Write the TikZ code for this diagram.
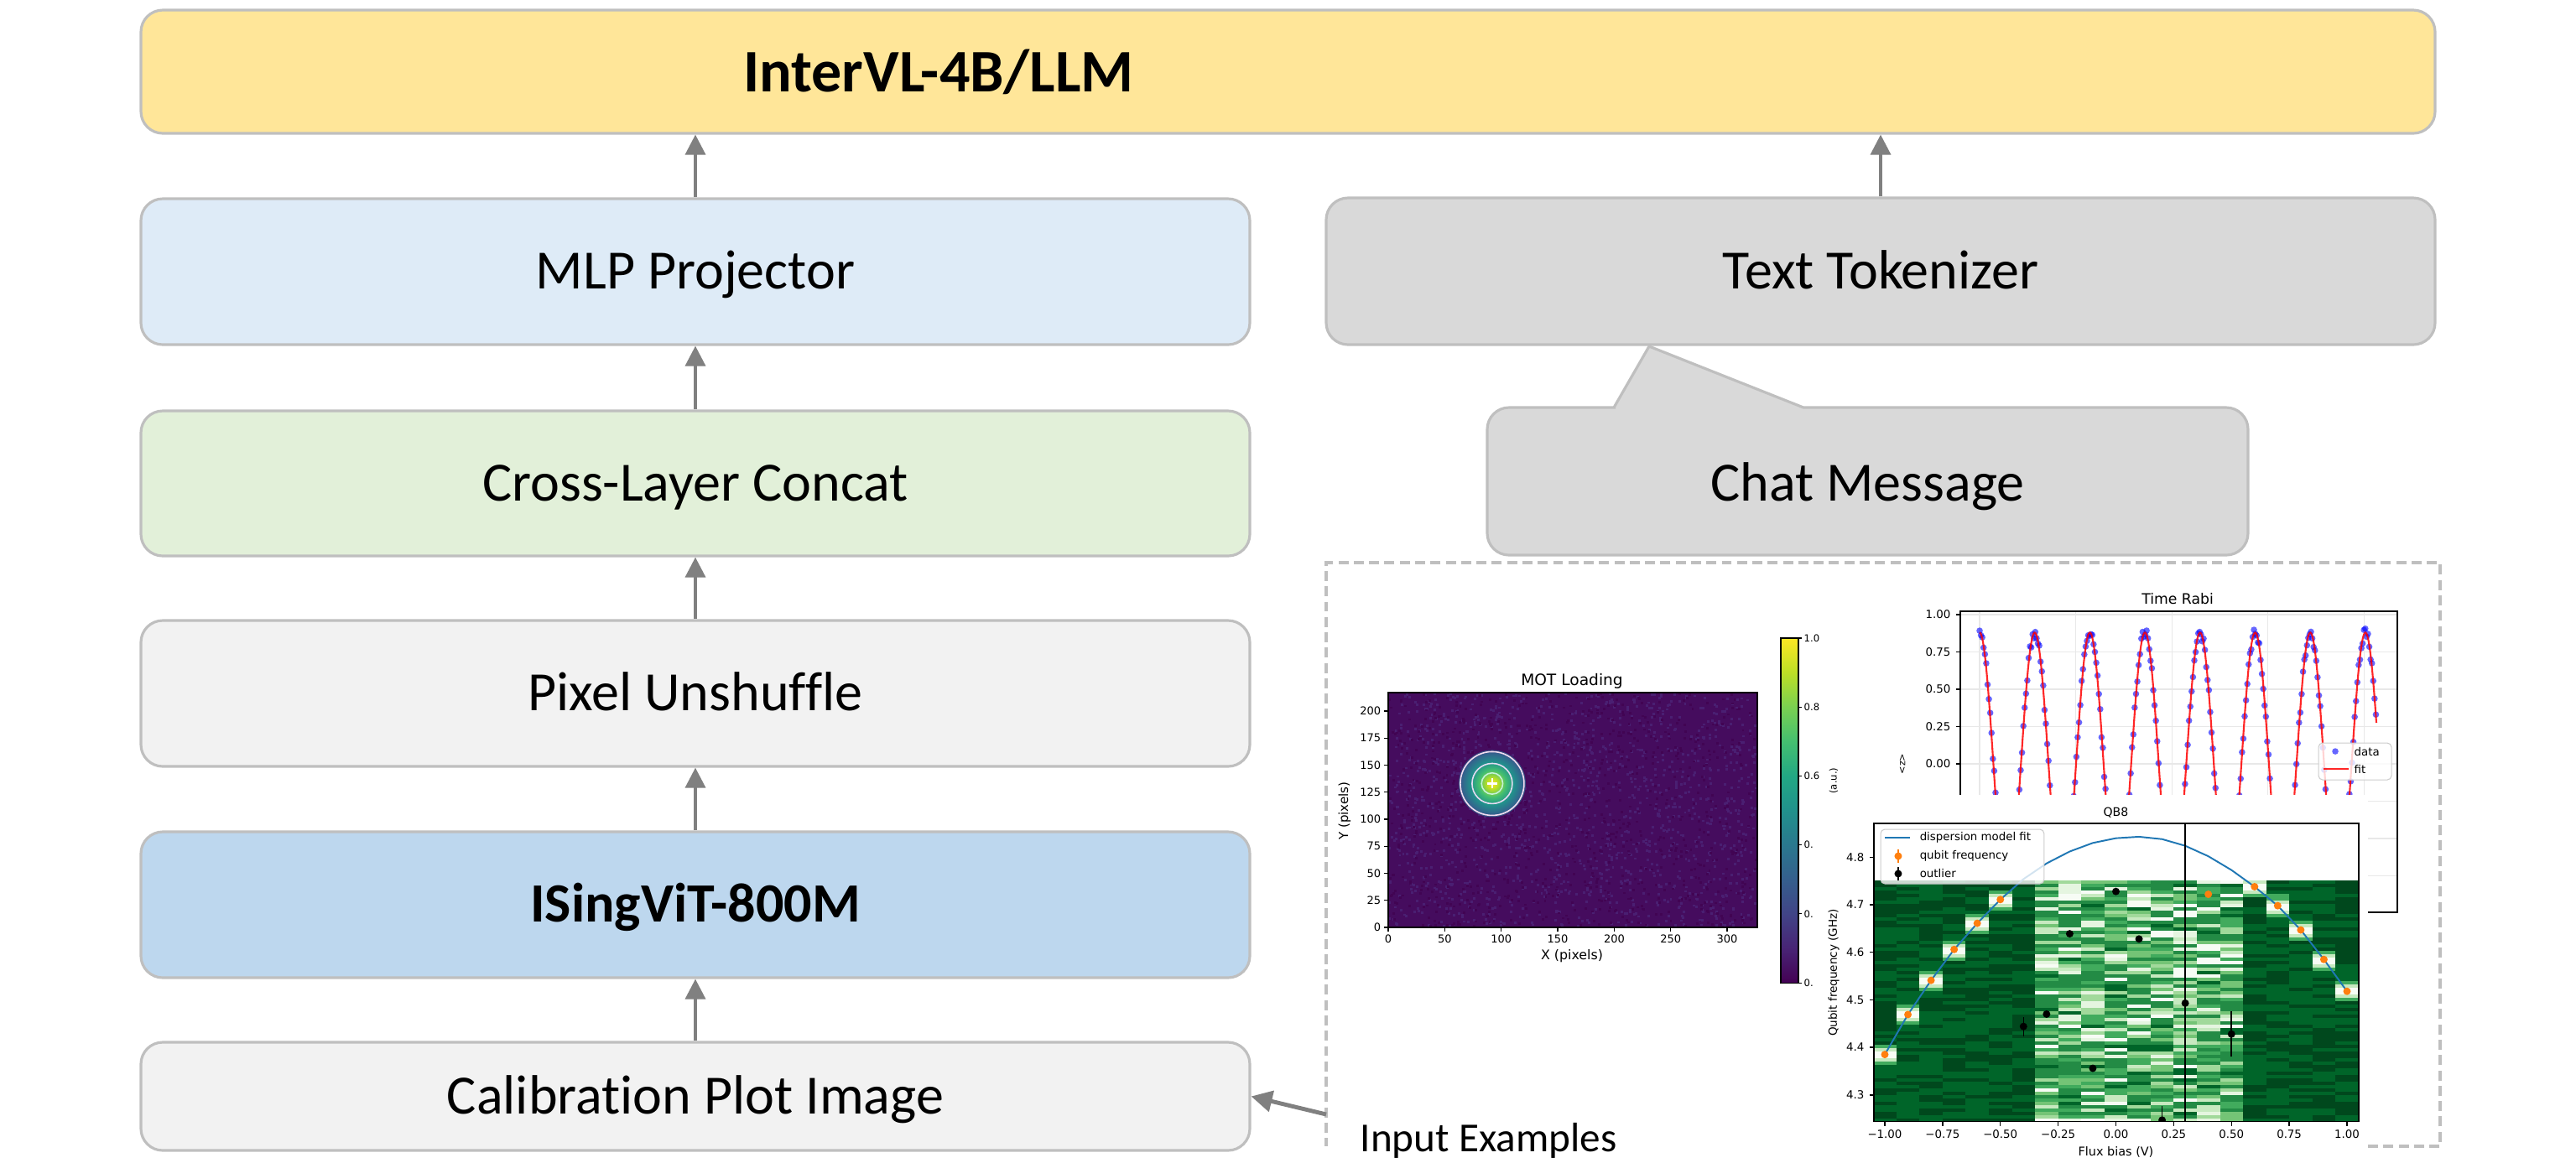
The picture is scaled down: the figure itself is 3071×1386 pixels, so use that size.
\documentclass[tikz,border=0pt]{standalone}
\usepackage{fontspec}
\setmainfont{Carlito}[Ligatures=NoCommon]
\newfontfamily\mpl{DejaVu Sans}
\usetikzlibrary{arrows.meta}

\definecolor{llmfill}{HTML}{FFE699}
\definecolor{mlpfill}{HTML}{DEEBF7}
\definecolor{catfill}{HTML}{E2F0D9}
\definecolor{lightfill}{HTML}{F2F2F2}
\definecolor{vitfill}{HTML}{BDD7EE}
\definecolor{tokfill}{HTML}{D9D9D9}
\definecolor{edgegray}{HTML}{BFBFBF}
\definecolor{arrgray}{HTML}{808080}
\definecolor{gridc}{HTML}{E8E8E8}
\definecolor{legedge}{HTML}{CCCCCC}
\definecolor{mplorange}{HTML}{FF7F0E}
\definecolor{mplblue}{HTML}{1F77B4}
\definecolor{motbase}{HTML}{450C5E}
\definecolor{motlight}{HTML}{4A1F72}
\definecolor{motdark}{HTML}{410453}
\definecolor{ringa}{HTML}{C4F2DA}
\definecolor{ringb}{HTML}{E4DAF2}
\definecolor{ringc}{HTML}{F2DCF0}
\definecolor{v0}{HTML}{440154}
\definecolor{v1}{HTML}{482475}
\definecolor{v2}{HTML}{414487}
\definecolor{v3}{HTML}{355F8D}
\definecolor{v4}{HTML}{2A788E}
\definecolor{v5}{HTML}{21918C}
\definecolor{v6}{HTML}{22A884}
\definecolor{v7}{HTML}{44BF70}
\definecolor{v8}{HTML}{7AD151}
\definecolor{v9}{HTML}{BDDF26}
\definecolor{v10}{HTML}{FDE725}
\definecolor{g0}{HTML}{F7FCF5}
\definecolor{g1}{HTML}{E5F5E0}
\definecolor{g2}{HTML}{C7E9C0}
\definecolor{g3}{HTML}{A1D99B}
\definecolor{g4}{HTML}{74C476}
\definecolor{g5}{HTML}{41AB5D}
\definecolor{g6}{HTML}{238B45}
\definecolor{g7}{HTML}{006529}
\definecolor{g8}{HTML}{00481D}

\pgfdeclareverticalshading{viridisv}{100bp}{color(0bp)=(v0); color(25bp)=(v0); color(30bp)=(v1); color(35bp)=(v2); color(40bp)=(v3); color(45bp)=(v4); color(50bp)=(v5); color(55bp)=(v6); color(60bp)=(v7); color(65bp)=(v8); color(70bp)=(v9); color(75bp)=(v10); color(100bp)=(v10)}
\pgfdeclareradialshading{motspot}{\pgfpoint{0bp}{0bp}}{color(0bp)=(v10); color(4bp)=(v9); color(10bp)=(v7); color(16bp)=(v5); color(23bp)=(v3); color(31bp)=(motbase); color(50bp)=(motbase)}

\begin{document}
\begin{tikzpicture}[x=0.1mm, y=-0.1mm,
  box/.style={draw=edgegray, line width=0.9pt, rounded corners=2.6mm, inner sep=0pt, font=\fontsize{18.8}{22}\selectfont, text height=13pt, text depth=1.12pt},
  boxtext/.style={inner sep=0pt, font=\fontsize{18.8}{22}\selectfont, text height=13pt, text depth=1.12pt},
  arr/.style={draw=arrgray, line width=1pt, -{Triangle[length=2.4mm,width=2.4mm]}},
  inarr/.style={draw=arrgray, line width=1.4pt, -{Triangle[length=2.5mm,width=2.5mm]}},
  frame/.style={draw=edgegray, line width=0.9pt, dash pattern=on 3.4pt off 1.8pt},
  mtick/.style={font=\mpl\fontsize{3.7}{4.4}\selectfont, inner sep=0pt},
  ctick/.style={font=\mpl\fontsize{3.3}{4}\selectfont, inner sep=0pt},
  qtick/.style={font=\mpl\fontsize{3.8}{4.5}\selectfont, inner sep=0pt},
  spine/.style={draw=black, line width=0.4pt}]

\useasboundingbox (0,0) rectangle (3071,1386);
\fill[white] (0,0) rectangle (3071,1386);

% ---------- main blocks ----------
\node[box, fill=llmfill, minimum width=273.5mm, minimum height=14.7mm] (llm) at (1535.5,85.5) {};
\node[inner sep=0pt, font=\bfseries\fontsize{20.5}{24}\selectfont, text height=14pt, text depth=1.04pt] (llmtxt) at (1119,87) {InterVL-4B/LLM};

\node[box, fill=mlpfill, minimum width=132.2mm, minimum height=17.4mm] (mlp) at (829,324) {MLP Projector};
\node[box, fill=catfill, minimum width=132.2mm, minimum height=17.3mm] (cat) at (829,576.5) {Cross-Layer Concat};
\node[box, fill=lightfill, minimum width=132.2mm, minimum height=17.4mm] (pix) at (829,827) {Pixel Unshuffle};
\node[box, fill=vitfill, minimum width=132.2mm, minimum height=17.4mm] (vit) at (829,1079) {\textbf{ISingViT-800M}};
\node[box, fill=lightfill, minimum width=132.2mm, minimum height=12.9mm] (cal) at (829,1307.5) {Calibration Plot Image};

\node[box, fill=tokfill, minimum width=132.2mm, minimum height=17.5mm] (tok) at (2242,323.5) {Text Tokenizer};

\draw[draw=edgegray, line width=0.9pt, fill=tokfill] (1924,486) -- (1966,413) -- (2150,486) -- (2170,486)
  [rounded corners=2.6mm] -- (2680,486) -- (2680,662) -- (1773,662) -- (1773,486) -- (1900,486) [sharp corners] -- cycle;
\node[boxtext] (chat) at (2226.5,577) {Chat Message};

\draw[arr] (cal.north) -- (vit.south);
\draw[arr] (vit.north) -- (pix.south);
\draw[arr] (pix.north) -- (cat.south);
\draw[arr] (cat.north) -- (mlp.south);
\draw[arr] (mlp.north) -- (mlp.north |- llm.south);
\draw[arr] (tok.north) -- (tok.north |- llm.south);

% ---------- input examples frame ----------
\draw[frame] (2823,1367) -- (2909,1367) -- (2909,671) -- (1581,671) -- (1581,1367);
\coordinate (inp) at (1581,1329);
\draw[inarr] (inp) -- (cal.east);
\node[font=\fontsize{14}{16}\selectfont, anchor=base west, inner sep=0pt] (inex) at (1621,1373) {Input Examples};

% ---------- MOT Loading ----------
\pgfmathsetseed{4242}
\begin{scope}[shift={(165.5mm,-110.6mm)}, x=0.1347mm, y=0.129mm]
  \fill[motbase] (0,0) rectangle (326.7,217);
  \foreach \i in {1,...,1500}{\fill[motlight] ({rnd*324.5},{rnd*215}) rectangle ++(2.2,2.2);}
  \foreach \i in {1,...,900}{\fill[motdark] ({rnd*324.5},{rnd*215}) rectangle ++(2.2,2.2);}
  \shade[shading=motspot] (92,133) circle[radius=4mm];
  \draw[ringc, line width=0.45pt] (92,133) circle[radius=3.8mm];
  \draw[ringb, line width=0.45pt] (92,133) circle[radius=2.4mm];
  \draw[ringa, line width=0.45pt] (92,133) circle[radius=1.27mm];
  \draw[white, line width=0.7pt] (92,133) ++(-0.6mm,0pt) -- ++(1.2mm,0pt);
  \draw[white, line width=0.7pt] (92,133) ++(0pt,-0.6mm) -- ++(0pt,1.2mm);
  \draw[spine] (0,0) rectangle (326.7,217);
  \foreach \v [count=\n] in {0,50,...,300}{
    \draw[spine] (\v,0) -- ++(0pt,-0.5mm);
    \node[mtick, anchor=north] (motx\n) at (\v,-6.5) {\v};}
  \foreach \v [count=\n] in {0,25,...,200}{
    \draw[spine] (0,\v) -- ++(-0.5mm,0pt);
    \node[mtick, anchor=east] (moty\n) at (-6,\v) {\v};}
\end{scope}
\node[font=\mpl\fontsize{5.3}{6}\selectfont, inner sep=0pt] (mott) at (1874,812) {MOT Loading};
\node[font=\mpl\fontsize{4.5}{5.4}\selectfont, inner sep=0pt] (motxl) at (1874,1140) {X (pixels)};
\node[font=\mpl\fontsize{4.3}{5.2}\selectfont, inner sep=0pt, rotate=90] (motyl) at (1603,967) {Y (pixels)};

% colorbar
\shade[shading=viridisv] (2123,761) rectangle (2144,1172);
\draw[spine, line width=0.3pt] (2123,761) rectangle (2144,1172);
\foreach \t/\l [count=\n] in {0/0.0,0.2/0.2,0.4/0.4,0.6/0.6,0.8/0.8,1/1.0}{
  \draw[spine, line width=0.3pt] (2144,{1172-411*\t}) -- ++(4,0);
  \node[ctick, anchor=west] (cb\n) at (2150,{1172-411*\t}) {\l};}
\node[ctick, rotate=90, anchor=east] (cblab) at (2186,915) {(a.u.)};

% ---------- Time Rabi ----------
\begin{scope}[shift={(0mm,-91.1mm)}, x=0.1mm, y=17.8mm]
  \foreach \z in {1,0.75,0.5,0.25,0,-0.25,-0.5,-0.75}{\draw[gridc, line width=0.35pt] (2337,\z) -- (2858,\z);}
  \foreach \gx in {2360,2474.6,2589.2,2703.8,2818.4}{\draw[gridc, line width=0.35pt] (\gx,-0.994) -- (\gx,1.022);}
  \begin{scope}
    \clip (2337,-0.994) rectangle (2858,1.022);
    \foreach \i in {0,...,299}{
      \pgfmathsetmacro\tq{\i*1.58}
      \pgfmathsetmacro\zz{0.88*cos(\tq*5.47945)+0.035*rand}
      \fill[blue, fill opacity=0.6] ({2360+\tq},\zz) circle[radius=0.38mm];}
    \draw[red, line width=0.6pt, opacity=0.85] plot[domain=0:473, samples=500] ({2360+\x},{0.88*cos(\x*5.47945)});
  \end{scope}
  \draw[spine] (2337,-0.994) rectangle (2858,1.022);
  \foreach \z/\l [count=\n] in {1/1.00,0.75/0.75,0.5/0.50,0.25/0.25,0/0.00}{
    \draw[spine] (2337,\z) -- ++(-0.5mm,0pt);
    \node[qtick, anchor=east] (raby\n) at (2326,\z) {\l};}
  \node[font=\mpl\fontsize{3.2}{4}\selectfont, inner sep=0pt, rotate=90] (rabyl) at (2268,0) {\textless z\textgreater};
  \node[font=\mpl\fontsize{4.9}{5.8}\selectfont, inner sep=0pt] (rabt) at (2596,1.107) {Time Rabi};
  \fill[white, fill opacity=0.8, draw=legedge, draw opacity=1, line width=0.3pt, rounded corners=0.5mm] (2764,0.140) rectangle (2851,-0.107);
  \fill[blue, fill opacity=0.6] (2784,0.084) circle[radius=0.38mm];
  \draw[red, line width=0.6pt, opacity=0.85] (2770,-0.034) -- (2800,-0.034);
  \node[qtick, anchor=west] (rabd) at (2806,0.084) {data};
  \node[qtick, anchor=west] (rabf) at (2806,-0.034) {fit};
\end{scope}

% ---------- QB8 ----------
\fill[white] (2162,948) rectangle (2823,1386);
\begin{scope}[shift={(252.25mm,-102.23mm)}, x=27.55mm, y=56.7mm]
  \begin{scope}
    \clip (-1.0472,-0.556) rectangle (1.0508,0.0711);
    \foreach \c in {0,...,20}{
      \pgfmathsetmacro\xa{-1.05+0.1*\c}
      \pgfmathsetmacro\xb{\xa+0.1006}
      \pgfmathsetmacro\fz{{4.385,4.469,4.541,4.606,4.661,4.711,0,0,0,0,0,0,0,0,0,0,4.738,4.698,4.647,4.585,4.518}[\c]}
      \ifnum\c<6 \def\ty{1}\else\ifnum\c>15 \def\ty{1}\else\ifnum\c=6 \def\ty{2}\else\def\ty{3}\fi\fi\fi
      \foreach \r in {0,...,71}{
        \pgfmathsetmacro\fr{4.244+(\r+0.5)*0.0070556}
        \ifnum\ty=1
          \pgfmathsetmacro\dd{abs(\fr-\fz)}
          \pgfmathtruncatemacro\k{\dd<0.0075 ? 0 : (\dd<0.0145 ? 2 : (\dd<0.022 ? 5 : 7+int(rnd*1.8)))}
        \else\ifnum\ty=2
          \pgfmathtruncatemacro\k{7+int(rnd*1.8)}
        \else
          \pgfmathsetmacro\uu{rnd}
          \pgfmathtruncatemacro\k{6-int(\uu*\uu*6.99)+int(rnd*1.25)}
        \fi\fi
        \fill[g\k] (\xa,{\fr-4.8-0.0036}) rectangle (\xb,{\fr-4.8+0.0037});
      }
    }
    \draw[mplblue, line width=0.55pt] plot coordinates {(-1.0,-0.415) (-0.9,-0.331) (-0.8,-0.259) (-0.7,-0.194) (-0.6,-0.139) (-0.5,-0.089) (-0.4,-0.046) (-0.3,-0.013) (-0.2,0.012) (-0.1,0.030) (0.0,0.040) (0.1,0.043) (0.2,0.038) (0.3,0.024) (0.4,0.002) (0.5,-0.027) (0.6,-0.062) (0.7,-0.102) (0.8,-0.153) (0.9,-0.215) (1.0,-0.282)};
    \foreach \v/\f in {-1.0/4.385,-0.9/4.469,-0.8/4.541,-0.7/4.606,-0.6/4.661,-0.5/4.711,0.4/4.722,0.6/4.738,0.7/4.698,0.8/4.647,0.9/4.585,1.0/4.518}{
      \fill[mplorange] (\v,{\f-4.8}) circle[radius=0.45mm];}
    \foreach \v/\f/\e in {-0.4/4.444/0.02,-0.3/4.470/0,-0.2/4.639/0,-0.1/4.356/0,0.0/4.728/0,0.1/4.628/0,0.2/4.247/0.03,0.3/4.493/0,0.5/4.428/0.048}{
      \draw[black, line width=0.45pt] (\v,{\f-\e-4.8}) -- (\v,{\f+\e-4.8});
      \fill[black] (\v,{\f-4.8}) circle[radius=0.45mm];}
  \end{scope}
  \draw[black, line width=0.45pt] (0.3,-0.556) -- (0.3,0.0711);
  \draw[spine] (-1.0472,-0.556) rectangle (1.0508,0.0711);
  \foreach \v/\l [count=\n] in {-1/−1.00,-0.75/−0.75,-0.5/−0.50,-0.25/−0.25,0/0.00,0.25/0.25,0.5/0.50,0.75/0.75,1/1.00}{
    \draw[spine] (\v,-0.556) -- ++(0pt,-0.5mm);
    \node[qtick, anchor=north] (qbx\n) at (\v,-0.572) {\l};}
  \foreach \f/\l [count=\n] in {-0.5/4.3,-0.4/4.4,-0.3/4.5,-0.2/4.6,-0.1/4.7,0/4.8}{
    \draw[spine] (-1.0472,\f) -- ++(-0.5mm,0pt);
    \node[qtick, anchor=east] (qby\n) at (-1.087,\f) {\l};}
  \node[font=\mpl\fontsize{4.0}{4.8}\selectfont, inner sep=0pt] (qbt) at (0,0.094) {QB8};
  \node[font=\mpl\fontsize{4.1}{4.9}\selectfont, inner sep=0pt] (qbxl) at (0,-0.620) {Flux bias (V)};
  \node[font=\mpl\fontsize{3.85}{4.6}\selectfont, inner sep=0pt, rotate=90] (qbyl) at (-1.221,-0.243) {Qubit frequency (GHz)};
  \fill[white, fill opacity=0.8, draw=legedge, draw opacity=1, line width=0.3pt, rounded corners=0.5mm] (-1.018,0.0587) rectangle (-0.311,-0.0559);
  \draw[mplblue, line width=0.55pt] (-1.0,0.041) -- (-0.891,0.041);
  \draw[mplorange, line width=0.45pt] (-0.942,-0.012) -- (-0.942,0.017);
  \fill[mplorange] (-0.942,0.0023) circle[radius=0.45mm];
  \draw[black, line width=0.45pt] (-0.942,-0.049) -- (-0.942,-0.020);
  \fill[black] (-0.942,-0.0347) circle[radius=0.45mm];
  \node[qtick, anchor=west] (lg1) at (-0.851,0.041) {dispersion model fit};
  \node[qtick, anchor=west] (lg2) at (-0.851,0.0023) {qubit frequency};
  \node[qtick, anchor=west] (lg3) at (-0.851,-0.0347) {outlier};
\end{scope}

\end{tikzpicture}
\end{document}
